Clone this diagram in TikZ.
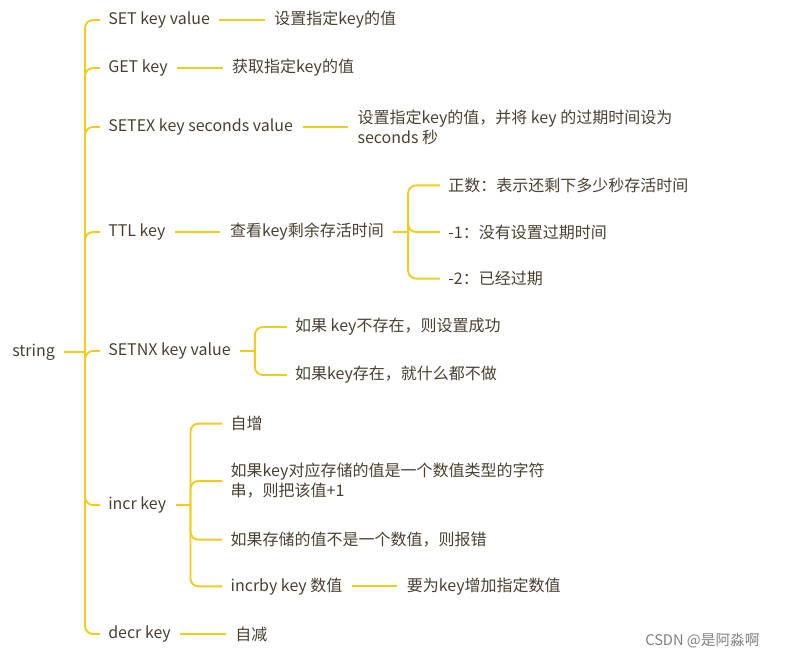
\documentclass[tikz,border=0pt]{standalone}
\usepackage{fontspec}
\setmainfont{Noto Sans CJK SC}
\usetikzlibrary{positioning}
\definecolor{linkc}{HTML}{F5CB1A}
\definecolor{textc}{HTML}{4A4030}
\tikzset{
  item/.style={anchor=west, inner sep=0pt, text=textc, font=\fontsize{12}{15}\selectfont},
  link/.style={draw=linkc, line width=1.4pt, rounded corners=6pt},
  node distance=48pt
}
\begin{document}
\begin{tikzpicture}[x=0.75pt,y=-0.75pt]

    \useasboundingbox (0,0) rectangle (798,659);

    % root and first level
    \node[item] (root) at (12,352) {string};
    \node[item] (set) at (108,20) {SET key value};
    \node[item] (get) at (108,68) {GET key};
    \node[item] (setex) at (108,127) {SETEX key seconds value};
    \node[item] (ttl) at (108,232) {TTL key};
    \node[item] (setnx) at (108,351) {SETNX key value};
    \node[item] (incr) at (108,505) {incr key};
    \node[item] (decr) at (108,634) {decr key};

    % second level
    \node[item, right=of set] (setv) {设置指定key的值};
    \node[item, right=of get] (getv) {获取指定key的值};
    \node[item, right=of setex, align=left] (setexv) {设置指定key的值，并将 key 的过期时间设为\\seconds 秒};
    \node[item, right=of ttl] (ttlv) {查看key剩余存活时间};
    \node[item, right=of ttlv, yshift=35pt] (ttla) {正数：表示还剩下多少秒存活时间};
    \node[item, right=of ttlv] (ttlb) {-1：没有设置过期时间};
    \node[item, right=of ttlv, yshift=-35pt] (ttlc) {-2：已经过期};
    \node[item, right=of setnx, yshift=18pt] (nxa) {如果 key不存在，则设置成功};
    \node[item, right=of setnx, yshift=-18pt] (nxb) {如果key存在，就什么都不做};
    \node[item, right=of incr, yshift=61pt] (inca) {自增};
    \node[item, right=of incr, yshift=18pt, align=left] (incb) {如果key对应存储的值是一个数值类型的字符\\串，则把该值+1};
    \node[item, right=of incr, yshift=-26pt] (incc) {如果存储的值不是一个数值，则报错};
    \node[item, right=of incr, yshift=-61pt] (incd) {incrby key 数值};
    \node[item, right=of incd] (incdv) {要为key增加指定数值};
    \node[item, right=of decr] (decrv) {自减};

    % brackets
    \coordinate (b0) at (85,352);
    \coordinate[right=18pt of ttlv] (b1);
    \coordinate[right=18pt of setnx] (b2);
    \coordinate[right=18pt of incr] (b3);

    \draw[link] ([xshift=7pt]root.east) -- (b0);
    \foreach \c in {set,get,setex,ttl,setnx,incr,decr}
        \draw[link] (b0) |- ([xshift=-6pt]\c.west);

    \draw[link] ([xshift=7pt]ttlv.east) -- (b1);
    \foreach \c in {ttla,ttlb,ttlc}
        \draw[link] (b1) |- ([xshift=-6pt]\c.west);

    \draw[link] ([xshift=7pt]setnx.east) -- (b2);
    \foreach \c in {nxa,nxb}
        \draw[link] (b2) |- ([xshift=-6pt]\c.west);

    \draw[link] ([xshift=7pt]incr.east) -- (b3);
    \foreach \c in {inca,incb,incc,incd}
        \draw[link] (b3) |- ([xshift=-6pt]\c.west);

    % plain links
    \draw[link] ([xshift=7pt]set.east) -- ([xshift=-7pt]setv.west);
    \draw[link] ([xshift=7pt]get.east) -- ([xshift=-7pt]getv.west);
    \draw[link] ([xshift=7pt]setex.east) -- ([xshift=-7pt]setexv.west);
    \draw[link] ([xshift=7pt]ttl.east) -- ([xshift=-7pt]ttlv.west);
    \draw[link] ([xshift=7pt]incd.east) -- ([xshift=-7pt]incdv.west);
    \draw[link] ([xshift=7pt]decr.east) -- ([xshift=-7pt]decrv.west);

    \node[item, text=gray, font=\fontsize{11}{13}\selectfont] (mark) at (645,641) {CSDN @是阿淼啊};

\end{tikzpicture}
\end{document}
